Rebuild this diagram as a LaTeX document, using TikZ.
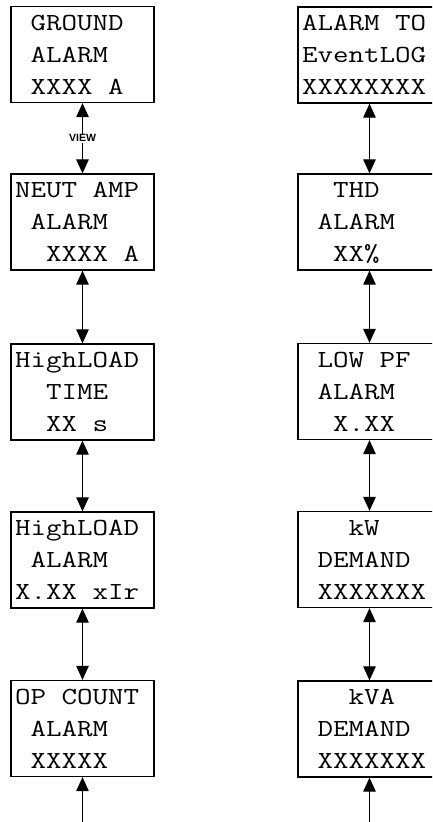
\documentclass[tikz,border=0pt]{standalone}
\usepackage{fontspec}
\newfontfamily\lcdfont{Latin Modern Mono}[FakeStretch=1.23]
\newfontfamily\viewfont{Liberation Sans}
\usepackage{tikz}
\usetikzlibrary{arrows.meta}

\newcommand{\pad}{\hphantom{X}}
\newcommand{\lcdtext}[3]{\rule{0pt}{20pt}#1\\#2\\\rule[-5pt]{0pt}{5pt}#3}

\tikzset{
    disp/.style={draw, line width=1.3pt, rectangle,
        minimum width=143pt, minimum height=96pt,
        inner xsep=4pt, inner ysep=0pt, text width=135pt, align=left,
        font=\lcdfont\fontsize{24.5}{32}\selectfont},
    link/.style={line width=1.2pt, {Triangle[length=14pt,width=12.5pt]}-{Triangle[length=14pt,width=12.5pt]}},
    linkup/.style={line width=1.2pt, {Triangle[length=14pt,width=12.5pt]}-},
}

\begin{document}
\begin{tikzpicture}[x=1pt, y=-1pt]

    \useasboundingbox (0,0) rectangle (432,822);
    \clip (0,0) rectangle (432,822);

    % left column
    \node[disp] (gnd)     at (82.5,54.5) {\lcdtext{\pad GROUND}{\pad ALARM}{\pad XXXX\pad A}};
    \node[disp] (neut)    at (82.5,222)  {\lcdtext{NEUT\pad AMP}{\pad ALARM}{\pad\pad XXXX\pad A}};
    \node[disp] (hltime)  at (82.5,392)  {\lcdtext{HighLOAD}{\pad\pad TIME}{\pad\pad XX\pad s}};
    \node[disp] (hlalarm) at (82.5,560)  {\lcdtext{HighLOAD}{\pad ALARM}{X.XX\pad xIr}};
    \node[disp] (opcount) at (82.5,728.5) {\lcdtext{OP\pad COUNT}{\pad ALARM}{\pad XXXXX}};
    \coordinate (opend) at (82.5,830);

    % right column
    \node[disp] (evlog)   at (369.5,55)  {\lcdtext{ALARM\pad TO}{EventLOG}{XXXXXXXX}};
    \node[disp] (thd)     at (369.5,222) {\lcdtext{\pad\pad THD}{\pad ALARM}{\pad\pad XX\%}};
    \node[disp] (lowpf)   at (369.5,391.5) {\lcdtext{\pad LOW\pad PF}{\pad ALARM}{\pad\pad X.XX}};
    \node[disp] (kwdem)   at (369.5,559.5) {\lcdtext{\pad\pad\pad kW}{\pad DEMAND}{\pad XXXXXXX}};
    \node[disp] (kvadem)  at (369.5,729) {\lcdtext{\pad\pad\pad kVA}{\pad DEMAND}{\pad XXXXXXX}};
    \coordinate (kvaend) at (369.5,830);

    \draw[link] (gnd.south) -- node[fill=white, inner sep=1pt,
        font=\viewfont\bfseries\fontsize{10.5}{12}\selectfont] (view) {VIEW} (neut.north);
    \draw[link] (neut.south) -- (hltime.north);
    \draw[link] (hltime.south) -- (hlalarm.north);
    \draw[link] (hlalarm.south) -- (opcount.north);
    \draw[linkup] (opcount.south) -- (opend);

    \draw[link] (evlog.south) -- (thd.north);
    \draw[link] (thd.south) -- (lowpf.north);
    \draw[link] (lowpf.south) -- (kwdem.north);
    \draw[link] (kwdem.south) -- (kvadem.north);
    \draw[linkup] (kvadem.south) -- (kvaend);

\end{tikzpicture}
\end{document}
